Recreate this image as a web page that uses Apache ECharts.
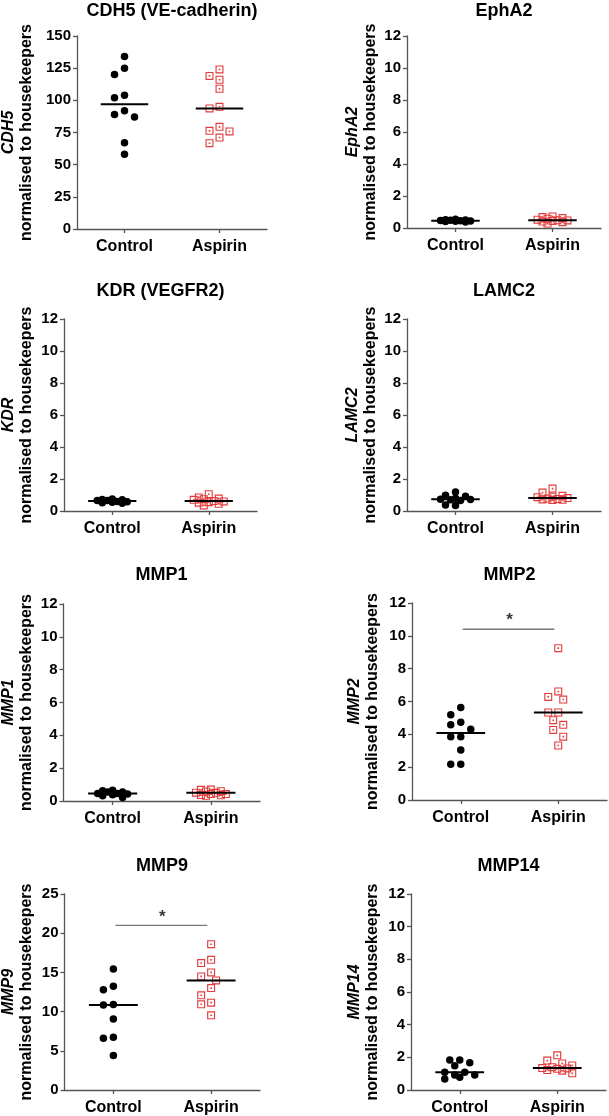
<!DOCTYPE html>
<html>
<head>
<meta charset="utf-8">
<script src="https://cdn.jsdelivr.net/npm/echarts@6/dist/echarts.min.js"></script>
<style>
  html, body { margin: 0; padding: 0; background: #fff; }
  #chart { width: 609px; height: 1116px; }
</style>
</head>
<body>
<div id="chart"></div>
<script>
// values (relative expression, normalised to housekeepers)
const groups = ["Control", "Aspirin"];
const genes = ["CDH5", "EphA2", "KDR", "LAMC2", "MMP1", "MMP2", "MMP9", "MMP14"];
const titles = ["CDH5 (VE-cadherin)", "EphA2", "KDR (VEGFR2)", "LAMC2", "MMP1", "MMP2", "MMP9", "MMP14"];
const yMax = [150, 12, 12, 12, 12, 12, 25, 12];
const yStep = [25, 2, 2, 2, 2, 2, 5, 2];

const cdh5Control = [134, 125, 120, 104, 102, 92, 89, 87, 67, 58];
const cdh5Aspirin = [124, 119, 116, 109, 95, 93.7, 79.4, 76.3, 75.8, 71.1, 66.7];
const epha2Control = [0.50, 0.42, 0.45, 0.40, 0.48, 0.52, 0.38, 0.44, 0.47, 0.55];
const epha2Aspirin = [0.72, 0.62, 0.52, 0.48, 0.40, 0.28, 0.36, 0.44, 0.47, 0.58, 0.68];
const kdrControl = [0.72, 0.65, 0.55, 0.48, 0.75, 0.52, 0.70, 0.60, 0.66, 0.58];
const kdrAspirin = [0.70, 0.52, 0.78, 0.45, 1.05, 0.35, 0.85, 0.60, 0.62, 0.55, 0.74];
const lamc2Control = [0.98, 0.80, 0.72, 0.65, 1.19, 0.35, 0.38, 0.70, 0.74, 0.92];
const lamc2Aspirin = [0.90, 0.75, 0.81, 0.68, 1.40, 1.15, 0.78, 0.95, 0.72, 0.86, 0.70];
const mmp1Control = [0.55, 0.45, 0.38, 0.62, 0.22, 0.65, 0.32, 0.46, 0.55, 0.42];
const mmp1Aspirin = [0.70, 0.60, 0.50, 0.42, 0.36, 0.32, 0.35, 0.42, 0.51, 0.58, 0.68];
const mmp2Control = [5.63, 5.19, 4.74, 4.58, 4.31, 3.86, 3.86, 3.05, 2.18, 2.18];
const mmp2Aspirin = [9.25, 6.61, 6.28, 6.12, 5.33, 5.33, 4.86, 4.58, 4.27, 3.86, 3.32];
const mmp9Control = [15.42, 13.22, 12.8, 10.89, 10.85, 9.07, 6.74, 6.61, 4.41];
const mmp9Aspirin = [18.6, 16.6, 16.19, 15.0, 14.49, 13.98, 13.0, 12.08, 11.14, 10.93, 9.53];
const mmp14Control = [1.84, 1.67, 1.49, 1.84, 1.08, 0.92, 1.08, 0.67, 0.78, 0.92];
const mmp14Aspirin = [2.12, 1.80, 1.63, 1.50, 1.32, 1.34, 1.30, 1.22, 1.18, 1.02, 1.40];

const controlSets = [cdh5Control, epha2Control, kdrControl, lamc2Control, mmp1Control, mmp2Control, mmp9Control, mmp14Control];
const aspirinSets = [cdh5Aspirin, epha2Aspirin, kdrAspirin, lamc2Aspirin, mmp1Aspirin, mmp2Aspirin, mmp9Aspirin, mmp14Aspirin];

// significance bars (Control vs Aspirin)
const sigGenes = ["MMP2", "MMP9"];
const sigLevels = [10.4, 21];
const sigMarks = ["*", "*"];

// layout: [left, top, width, height] of each plot area
const boxes = [
    [77, 36, 190, 193],
    [407, 36, 194, 192],
    [64, 319, 193, 192],
    [407, 319, 194, 192],
    [63, 604, 197, 197],
    [412, 603, 195, 197],
    [64, 894, 196, 197],
    [411, 894, 195, 196],
];
const titleTops = [2, 2, 282, 282, 566, 566, 857, 857];
const nameGaps = [41, 27, 28, 27, 27.5, 30.5, 28.5, 29.5];

const FONT = '"Liberation Sans", Arial, Helvetica, sans-serif';
const RED = "#e23b3b";
const AXIS = "#555";
const SQUARE = "path://M0,0H10V10H0Z M1.4,1.4V8.6H8.6V1.4Z M4,4H6V6H4Z";

const median = (arr) => {
    const s = [...arr].sort((a, b) => a - b);
    const m = Math.floor(s.length / 2);
    return s.length % 2 ? s[m] : (s[m - 1] + s[m]) / 2;
};

// simple beeswarm: sideways pixel offsets so the dots do not pile up
const swarm = (values, pxPerUnit, dist, step, maxOff) => {
    const order = values.map((v, i) => i).sort((a, b) => values[b] - values[a]);
    const placed = [];
    const offsets = new Array(values.length);
    const cands = [0];
    for (let k = 1; k * step <= maxOff; k++) cands.push(-k * step, k * step);
    order.forEach((i) => {
        const y = values[i] * pxPerUnit;
        let chosen = null;
        let best = cands[0];
        let bestScore = -1;
        for (const c of cands) {
            let minD = Infinity;
            placed.forEach((p) => {
                minD = Math.min(minD, Math.hypot(p.x - c, p.y - y));
            });
            if (minD >= dist) {
                chosen = c;
                break;
            }
            if (minD > bestScore) {
                bestScore = minD;
                best = c;
            }
        }
        if (chosen === null) chosen = best;
        placed.push({ x: chosen, y });
        offsets[i] = chosen;
    });
    return offsets;
};

const chart = echarts.init(document.getElementById("chart"), null, { renderer: "canvas" });

const grid = [];
const xAxis = [];
const yAxis = [];
const title = [];
const series = [];

genes.forEach((gene, p) => {
    const [left, top, width, height] = boxes[p];
    const pxPerY = height / yMax[p];
    const pxPerX = width / 2;

    grid.push({ left, top, width, height });
    title.push({
        text: titles[p],
        left: left + width / 2,
        top: titleTops[p],
        textAlign: "center",
        padding: 0,
        textStyle: { fontFamily: FONT, fontWeight: "bold", fontSize: 18, color: "#000" },
    });
    xAxis.push({
        type: "value",
        gridIndex: p,
        min: 0.5,
        max: 2.5,
        splitLine: { show: false },
        axisLine: { show: true, lineStyle: { color: AXIS, width: 1.3 } },
        axisTick: { show: true, length: 4, customValues: [1, 2], lineStyle: { color: AXIS, width: 1.3 } },
        axisLabel: {
            customValues: [1, 2],
            formatter: (v) => groups[Math.round(v) - 1],
            margin: 10,
            color: "#000",
            fontFamily: FONT,
            fontWeight: "bold",
            fontSize: 16,
        },
    });
    yAxis.push({
        type: "value",
        gridIndex: p,
        min: 0,
        max: yMax[p],
        interval: yStep[p],
        splitLine: { show: false },
        axisLine: { show: true, lineStyle: { color: AXIS, width: 1.3 } },
        axisTick: { show: true, length: 4, lineStyle: { color: AXIS, width: 1.3 } },
        axisLabel: { margin: 6, color: "#000", fontFamily: FONT, fontWeight: "bold", fontSize: 15 },
        name: "{g|" + gene + "}\n{n|normalised to housekeepers}",
        nameLocation: "middle",
        nameGap: nameGaps[p],
        nameTextStyle: {
            rich: {
                g: { fontFamily: FONT, fontWeight: "bold", fontStyle: "italic", fontSize: 16, lineHeight: 18, color: "#000" },
                n: { fontFamily: FONT, fontWeight: "bold", fontSize: 16, lineHeight: 18, color: "#000" },
            },
        },
    });

    [controlSets[p], aspirinSets[p]].forEach((vals, g) => {
        const center = g + 1;
        const offs = swarm(vals, pxPerY, 9, 5, 17);
        series.push({
            type: "scatter",
            xAxisIndex: p,
            yAxisIndex: p,
            symbol: g === 0 ? "circle" : SQUARE,
            symbolSize: g === 0 ? 7.5 : 8,
            itemStyle: { color: g === 0 ? "#000" : RED, opacity: 1 },
            z: 2,
            silent: true,
            data: vals.map((v, i) => [center + offs[i] / pxPerX, v]),
        });
        const med = median(vals);
        series.push({
            type: "line",
            xAxisIndex: p,
            yAxisIndex: p,
            symbol: "none",
            z: 3,
            silent: true,
            lineStyle: { color: "#000", width: 2 },
            data: [[center - 0.25, med], [center + 0.25, med]],
        });
    });

    const s = sigGenes.indexOf(gene);
    if (s >= 0) {
        series.push({
            type: "line",
            xAxisIndex: p,
            yAxisIndex: p,
            symbol: "none",
            silent: true,
            lineStyle: { color: "#777", width: 1.3 },
            data: [[1.02, sigLevels[s]], [1.96, sigLevels[s]]],
        });
        series.push({
            type: "scatter",
            xAxisIndex: p,
            yAxisIndex: p,
            symbolSize: 0,
            silent: true,
            label: {
                show: true,
                position: "top",
                distance: 0,
                formatter: sigMarks[s],
                fontFamily: FONT,
                fontWeight: "bold",
                fontSize: 17,
                color: "#000",
            },
            data: [[1.5, sigLevels[s]]],
        });
    }
});

chart.setOption({
    animation: false,
    backgroundColor: "#fff",
    title,
    grid,
    xAxis,
    yAxis,
    series,
});
</script>
</body>
</html>
